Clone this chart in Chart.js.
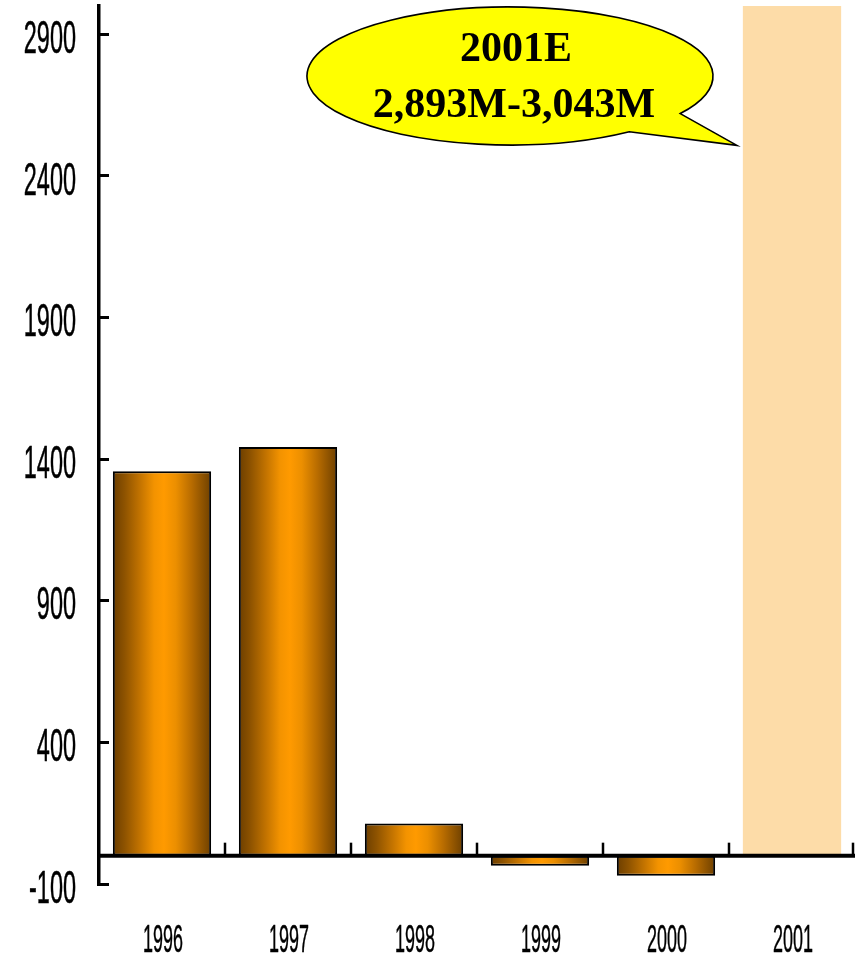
<!DOCTYPE html>
<html>
<head>
<meta charset="utf-8">
<script src="https://cdn.jsdelivr.net/npm/chart.js@4.4.1/dist/chart.umd.min.js"></script>
<style>
  html, body { margin: 0; padding: 0; background: #fff; }
  #wrap { width: 855px; height: 958px; position: relative; }
</style>
</head>
<body>
<div id="wrap"><canvas id="netChart"></canvas></div>
<script>
// values (millions)
const years = ['1996', '1997', '1998', '1999', '2000', '2001'];
const actuals = [1357, 1443, 114, -36, -71, null];
const estimate = [null, null, null, null, null, 3000];
const yTicks = [-100, 400, 900, 1400, 1900, 2400, 2900];
const calloutLines = ['2001E', '2,893M-3,043M'];

const BAR_PCT = 0.78;

// cylinder-like shading across each bar
const barShade = (context) => {
  const chart = context.chart;
  const xs = chart.scales.x;
  if (!xs || !chart.chartArea) return '#ff9900';
  const center = xs.getPixelForValue(context.dataIndex);
  const half = xs.width / years.length * BAR_PCT / 2;
  const g = chart.ctx.createLinearGradient(center - half, 0, center + half, 0);
  g.addColorStop(0, '#6c3e00');
  g.addColorStop(0.12, '#8e5300');
  g.addColorStop(0.28, '#c47400');
  g.addColorStop(0.42, '#f39300');
  g.addColorStop(0.52, '#ff9a00');
  g.addColorStop(0.64, '#ec8f00');
  g.addColorStop(0.8, '#b86c00');
  g.addColorStop(1, '#6e4000');
  return g;
};

// condensed text, like the narrow font in the original
function narrowText(ctx, text, x, y, size, squeeze, align) {
  ctx.save();
  ctx.translate(x, y);
  ctx.scale(squeeze, 1);
  ctx.font = size + 'px "Liberation Sans", Arial, sans-serif';
  ctx.textAlign = align;
  ctx.textBaseline = 'alphabetic';
  ctx.fillStyle = '#000';
  ctx.strokeStyle = '#000';
  ctx.lineWidth = 0.5;
  ctx.fillText(text, 0, 0);
  ctx.strokeText(text, 0, 0);
  ctx.restore();
}

const axisDecor = {
  id: 'axisDecor',
  afterDraw(chart) {
    const ctx = chart.ctx;
    const xs = chart.scales.x;
    const ys = chart.scales.y;
    const area = chart.chartArea;
    const zeroY = ys.getPixelForValue(0);
    const step = xs.width / years.length;

    // zero line
    ctx.save();
    ctx.strokeStyle = '#000';
    ctx.lineWidth = 4;
    ctx.beginPath();
    ctx.moveTo(area.left, zeroY);
    ctx.lineTo(area.right, zeroY);
    ctx.stroke();

    // category boundary ticks pointing up
    ctx.lineWidth = 2.5;
    years.forEach((y, i) => {
      const bx = Math.min(xs.getPixelForValue(i) + step / 2, area.right - 2);
      ctx.beginPath();
      ctx.moveTo(bx, zeroY - 13);
      ctx.lineTo(bx, zeroY);
      ctx.stroke();
    });
    ctx.restore();

    // y labels
    yTicks.forEach(v => {
      narrowText(ctx, String(v), 76, ys.getPixelForValue(v) + 18.7, 46, 0.51, 'right');
    });
    // x labels
    years.forEach((y, i) => {
      narrowText(ctx, y, xs.getPixelForValue(i) + 1, 952, 38, 0.473, 'center');
    });

    // callout bubble pointing at the 2001 bar
    const cx = 510, cy = 76, rx = 203, ry = 69;
    const tipX = xs.getPixelForValue(5) - step * BAR_PCT / 2 - 6;
    const tipY = ys.getPixelForValue(2508);
    ctx.save();
    ctx.beginPath();
    ctx.ellipse(cx, cy, rx, ry, 0, 54 * Math.PI / 180, (33 + 360) * Math.PI / 180);
    ctx.lineTo(tipX, tipY);
    ctx.closePath();
    ctx.fillStyle = '#ffff00';
    ctx.fill();
    ctx.strokeStyle = '#000';
    ctx.lineWidth = 1.6;
    ctx.stroke();

    ctx.fillStyle = '#000';
    ctx.font = 'bold 42px "Liberation Serif", "Times New Roman", serif';
    ctx.textAlign = 'center';
    ctx.textBaseline = 'alphabetic';
    ctx.fillText(calloutLines[0], 516, 61);
    ctx.fillText(calloutLines[1], 514, 117);
    ctx.restore();
  }
};

const ctx = document.getElementById('netChart').getContext('2d');
const netChart = new Chart(ctx, {
  type: 'bar',
  data: {
    labels: years,
    datasets: [{
      label: 'Actual',
      data: actuals,
      backgroundColor: barShade,
      borderColor: '#000',
      borderWidth: 2,
      borderSkipped: false
    }, {
      label: 'Estimate',
      data: estimate,
      backgroundColor: '#fddca8',
      borderWidth: 0
    }]
  },
  options: {
    responsive: true,
    maintainAspectRatio: false,
    animation: false,
    layout: {
      padding: { top: 6, bottom: 74, left: 0, right: 0 }
    },
    datasets: {
      bar: {
        grouped: false,
        barPercentage: BAR_PCT,
        categoryPercentage: 1
      }
    },
    scales: {
      x: {
        display: false
      },
      y: {
        min: -100,
        max: 3000,
        afterBuildTicks: scale => {
          scale.ticks = yTicks.map(v => ({ value: v }));
        },
        afterFit: scale => {
          scale.width = 99;
        },
        ticks: { display: false },
        grid: {
          drawOnChartArea: false,
          drawTicks: true,
          tickLength: -10,
          tickWidth: 3,
          tickColor: '#000'
        },
        border: {
          display: true,
          color: '#000',
          width: 3.5
        }
      }
    },
    plugins: {
      legend: { display: false },
      tooltip: { enabled: false }
    }
  },
  plugins: [axisDecor]
});
</script>
</body>
</html>
